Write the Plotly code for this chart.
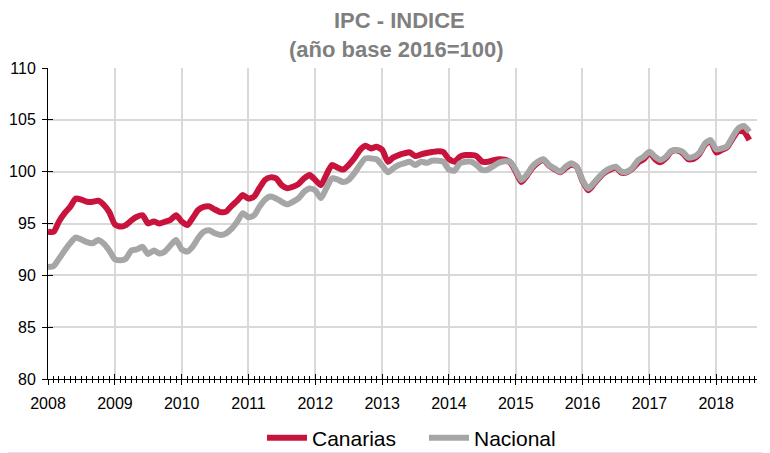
import pandas as pd
import plotly.graph_objects as go

# Monthly CPI index, base 2016=100, Jan 2008 - Jul 2018
months = pd.date_range("2008-01-01", periods=127, freq="MS")

canarias = [
    94.2, 94.2, 95.2, 96.0, 96.6, 97.4, 97.3, 97.1, 97.1, 97.2, 96.8, 96.1,
    94.9, 94.7, 94.85, 95.3, 95.65, 95.8, 95.0, 95.2, 95.0, 95.17, 95.35, 95.8,
    95.2, 94.85, 95.5, 96.3, 96.6, 96.65, 96.35, 96.1, 96.15, 96.7, 97.2, 97.75,
    97.4, 97.6, 98.4, 99.2, 99.45, 99.35, 98.7, 98.4, 98.55, 98.8, 99.35, 99.67,
    99.2, 98.7, 99.67, 100.64, 100.4, 100.2, 100.64, 101.28, 102.08, 102.5, 102.24, 102.4,
    102.1, 100.96, 101.35, 101.6, 101.76, 101.86, 101.5, 101.66, 101.8, 101.9, 101.98, 101.9,
    101.2, 100.96, 101.44, 101.6, 101.6, 101.5, 100.96, 100.96, 101.1, 101.2, 101.15, 100.9,
    100.0, 99.0, 99.55, 100.35, 100.85, 101.15, 100.6, 100.25, 99.95, 100.35, 100.7, 100.45,
    99.1, 98.2, 98.75, 99.4, 99.9, 100.2, 100.4, 99.9, 99.95, 100.3, 100.9, 101.2,
    101.85, 101.2, 100.9, 101.3, 101.95, 102.05, 101.8, 101.2, 101.25, 101.7, 102.6, 102.95,
    101.85, 102.1, 102.35, 103.2, 103.9, 103.85, 103.05,
]

nacional = [
    90.8, 90.9, 91.6, 92.4, 93.1, 93.65, 93.45, 93.2, 93.1, 93.4, 93.05, 92.4,
    91.55, 91.45, 91.6, 92.4, 92.5, 92.75, 92.05, 92.4, 92.1, 92.3, 92.9, 93.4,
    92.5, 92.3, 92.75, 93.6, 94.2, 94.35, 94.05, 93.9, 94.05, 94.5, 95.2, 96.0,
    95.6, 95.8, 96.6, 97.3, 97.6, 97.42, 97.1, 96.85, 97.1, 97.42, 98.06, 98.38,
    98.2, 97.45, 98.38, 99.35, 99.25, 99.0, 99.2, 99.83, 100.64, 101.28, 101.28, 101.2,
    100.6, 99.95, 100.3, 100.64, 100.8, 100.96, 100.64, 100.96, 100.86, 101.06, 101.06, 100.96,
    100.2, 100.1, 100.8, 100.96, 100.96, 100.64, 100.16, 100.2, 100.54, 100.85, 101.0, 100.96,
    100.16, 99.19, 99.67, 100.48, 100.96, 101.2, 100.64, 100.32, 100.0, 100.48, 100.8, 100.48,
    99.19, 98.38, 98.87, 99.5, 100.0, 100.32, 100.48, 100.0, 100.0, 100.4, 101.12, 101.44,
    101.92, 101.44, 101.12, 101.44, 102.0, 102.08, 101.92, 101.37, 101.44, 101.82, 102.73, 103.05,
    102.15, 102.24, 102.46, 103.37, 104.17, 104.4, 103.85,
]

series_names = ["Canarias", "Nacional"]
series_colors = ["#C8143C", "#A6A6A6"]

FONT = "Liberation Sans, Arial, sans-serif"
x_range = ["2008-01-01", "2018-08-12"]
y_range = [80, 110]

# The page body has an 8px default margin, so the figure is drawn 8px smaller
# and all positions are relative to that offset.
W, H = 762, 445
ML, MR, MT, MB = 40, 13, 60, 74
PW, PH = W - ML - MR, H - MT - MB

fig = go.Figure()
for name, vals, col in zip(series_names, [canarias, nacional], series_colors):
    fig.add_trace(go.Scatter(
        x=months, y=vals, name=name, mode="lines",
        line=dict(color=col, width=6, shape="spline", smoothing=0.6),
    ))

# dummy trace for overlay axes (cross ticks)
fig.add_trace(go.Scatter(x=[months[0]], y=[80], mode="none", showlegend=False,
                         hoverinfo="skip", xaxis="x2", yaxis="y2"))

fig.update_layout(
    width=W, height=H,
    margin=dict(l=ML, r=MR, t=MT, b=MB, autoexpand=False),
    paper_bgcolor="white", plot_bgcolor="white",
    font=dict(family=FONT, color="#000000", size=16),
    showlegend=True,
    legend=dict(orientation="h", xref="container", yref="container",
                x=254 / W, xanchor="left", y=1 - 430 / H, yanchor="middle",
                font=dict(size=21, family=FONT, color="#000000"),
                itemwidth=40, entrywidth=107, entrywidthmode="pixels",
                traceorder="normal", bgcolor="rgba(0,0,0,0)"),
    xaxis=dict(
        type="date", range=x_range, dtick="M12", tick0="2008-01-01", tickformat="%Y",
        showgrid=True, gridcolor="#D9D9D9", gridwidth=2,
        showline=True, linecolor="#000000", linewidth=1,
        ticks="outside", ticklen=5, tickcolor="#000000", tickwidth=1,
        minor=dict(dtick="M1", tick0="2008-01-01", ticks="outside", ticklen=3,
                   tickcolor="#000000", showgrid=False),
        tickfont=dict(size=16, family=FONT, color="#000000"),
        ticklabelstandoff=5, automargin=False,
        zeroline=False, fixedrange=True,
    ),
    yaxis=dict(
        range=y_range, dtick=5, tick0=80,
        showgrid=True, gridcolor="#D9D9D9", gridwidth=2,
        showline=True, linecolor="#000000", linewidth=1,
        ticks="outside", ticklen=5, tickcolor="#000000", tickwidth=1,
        tickfont=dict(size=16, family=FONT, color="#000000"),
        ticklabelstandoff=3, automargin=False,
        zeroline=False, fixedrange=True,
    ),
    xaxis2=dict(
        type="date", range=x_range, overlaying="x", anchor="y2", side="bottom",
        dtick="M12", tick0="2008-01-01", showticklabels=False, showgrid=False,
        showline=False, ticks="inside", ticklen=5, tickcolor="#000000",
        minor=dict(dtick="M1", tick0="2008-01-01", ticks="inside", ticklen=3,
                   tickcolor="#000000", showgrid=False),
        zeroline=False, fixedrange=True, automargin=False,
    ),
    yaxis2=dict(
        range=y_range, overlaying="y", anchor="x2", side="left", dtick=5, tick0=80,
        showticklabels=False, showgrid=False, showline=False,
        ticks="inside", ticklen=5, tickcolor="#000000",
        zeroline=False, fixedrange=True, automargin=False,
    ),
    annotations=[
        dict(text="<b>IPC - INDICE</b>", xref="paper", yref="paper", x=(391 - ML) / PW,
             y=1 + (MT - 13) / PH,
             xanchor="center", yanchor="middle", showarrow=False,
             font=dict(size=22, family=FONT, color="#7F7F7F")),
        dict(text="<b>(año base 2016=100)</b>", xref="paper", yref="paper", x=(388 - ML) / PW,
             y=1 + (MT - 42) / PH,
             xanchor="center", yanchor="middle", showarrow=False,
             font=dict(size=22, family=FONT, color="#7F7F7F")),
    ],
    shapes=[
        dict(type="path", xref="paper", yref="paper",
             path="M {x0},{y1} L {x1},{y1} L {x1},{y0} L {x0},{y0} Z".format(
                 x0=(-7.5 - ML) / PW, x1=(761.5 - ML) / PW,
                 y0=-(444.5 - (MT + PH)) / PH, y1=1 + (MT + 7.5) / PH),
             line=dict(color="#E3E3E3", width=1), layer="below"),
    ],
)

fig.write_html("out.html")
